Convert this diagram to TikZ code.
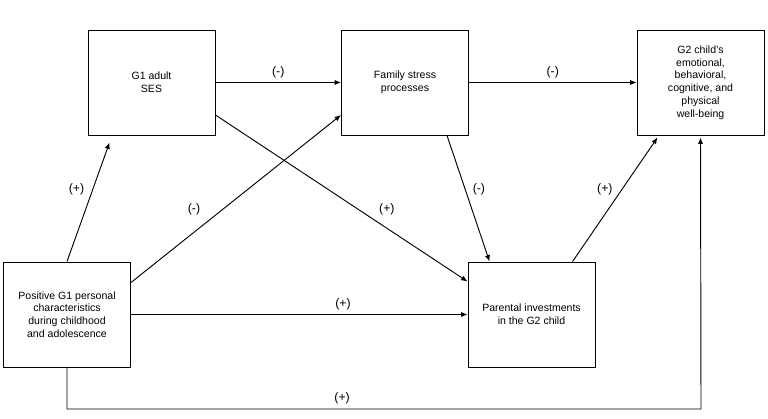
\documentclass[tikz,border=0pt]{standalone}
\usepackage{fontspec}
\setmainfont{Liberation Sans}
\usetikzlibrary{arrows.meta,calc}
\tikzset{
	box/.style={draw=black,line width=0.8pt,minimum width=3.81cm,minimum height=3.15cm,align=center,inner sep=2pt,font=\fontsize{9}{10.9}\selectfont},
	link/.style={line width=0.8pt,-{Latex[length=5.5pt,width=4.5pt]}},
	sign/.style={inner sep=1pt,font=\fontsize{10.5}{12}\selectfont}
}
\begin{document}
\begin{tikzpicture}[x=0.03cm,y=-0.03cm]
		\useasboundingbox (0,0) rectangle (768,418);
		\node[box] (ses) at (151.5,82.5) {G1 adult\\SES};
		\node[box] (stress) at (405,82.5) {Family stress\\processes};
		\node[box] (child) at (700.5,82.5) {G2 child's\\emotional,\\behavioral,\\cognitive, and\\physical\\well-being};
		\node[box] (pos) at (67,314.5) {Positive G1 personal\\characteristics\\during childhood\\and adolescence};
		\node[box] (invest) at (531.5,314.5) {Parental investments\\in the G2 child};
		\coordinate (corner) at (701,409);
		\draw[link] (ses) -- node[sign,midway,above=2.5pt] {(-)} (stress);
		\draw[link] (stress) -- node[sign,midway,above=2.5pt] {(-)} (child);
		\draw[link] (pos.north) -- node[sign,pos=0.61,left=6pt] {(+)} ($(ses.south west)+(22,7)$);
		\draw[link] ($(pos.north east)+(0,21)$) -- node[sign,pos=0.3,above=13pt] {(-)} ($(stress.west)+(0,32.5)$);
		\draw[link] ($(ses.east)+(0,32.5)$) -- node[sign,pos=0.68,above=9.5pt] {(+)} ($(invest.north west)+(0,20)$);
		\draw[link] ($(stress.south)+(42,0)$) -- node[sign,pos=0.43,right=5pt] {(-)} ($(invest.north west)+(22,0)$);
		\draw[link] ($(invest.north west)+(105,0)$) -- node[sign,pos=0.58,left=6.5pt] {(+)} ($(child.south west)+(21,2)$);
		\draw[link] (pos) -- node[sign,pos=0.63,above=2.5pt] {(+)} (invest);
		\draw[link] (pos.south) |- node[sign,pos=0.717,above=2.5pt] {(+)} (corner) -- ($(child.south)+(0,2)$);
	\end{tikzpicture}
\end{document}
